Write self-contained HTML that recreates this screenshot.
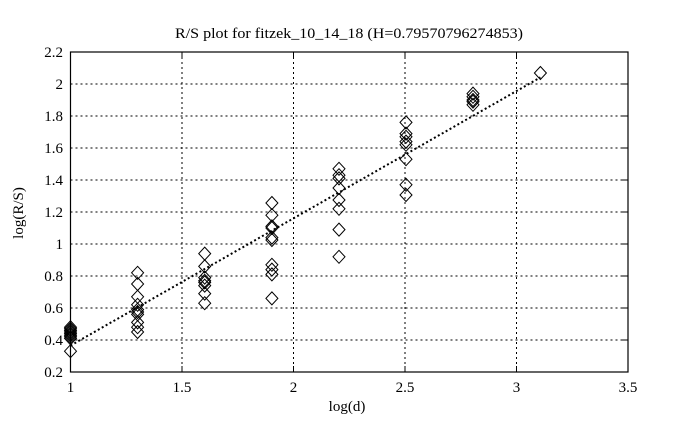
<!DOCTYPE html>
<html>
<head>
<meta charset="utf-8">
<style>
html,body{margin:0;padding:0;background:#fff;}
svg{display:block;}
.t{font-family:"Liberation Serif",serif;font-size:15px;fill:#000;}
.s{font-family:"Liberation Serif",serif;font-size:15px;fill:#000;}
</style>
</head>
<body>
<svg width="686" height="430" viewBox="0 0 686 430" xmlns="http://www.w3.org/2000/svg">
<rect width="686" height="430" fill="#fff"/>
<defs>
<path id="d" d="M0,-6.5 L6,0 L0,6.5 L-6,0 Z" fill="none" stroke="#000" stroke-width="1"/>
</defs>
<text class="t" x="349" y="38" text-anchor="middle" textLength="348" lengthAdjust="spacingAndGlyphs">R/S plot for fitzek_10_14_18 (H=0.79570796274853)</text>
<g stroke="#000" stroke-width="1" stroke-dasharray="2,3" fill="none">
<line x1="182" y1="52" x2="182" y2="372"/>
<line x1="293.5" y1="52" x2="293.5" y2="372"/>
<line x1="405" y1="52" x2="405" y2="372"/>
<line x1="516.5" y1="52" x2="516.5" y2="372"/>
<line x1="70.5" y1="84" x2="628" y2="84"/>
<line x1="70.5" y1="116" x2="628" y2="116"/>
<line x1="70.5" y1="148" x2="628" y2="148"/>
<line x1="70.5" y1="180" x2="628" y2="180"/>
<line x1="70.5" y1="212" x2="628" y2="212"/>
<line x1="70.5" y1="244" x2="628" y2="244"/>
<line x1="70.5" y1="276" x2="628" y2="276"/>
<line x1="70.5" y1="308" x2="628" y2="308"/>
<line x1="70.5" y1="340" x2="628" y2="340"/>
</g>
<rect x="70.5" y="52" width="557.5" height="320" fill="none" stroke="#000" stroke-width="1.2"/>
<g stroke="#000" stroke-width="1">
<line x1="182" y1="372" x2="182" y2="366"/><line x1="182" y1="52" x2="182" y2="58"/>
<line x1="293.5" y1="372" x2="293.5" y2="366"/><line x1="293.5" y1="52" x2="293.5" y2="58"/>
<line x1="405" y1="372" x2="405" y2="366"/><line x1="405" y1="52" x2="405" y2="58"/>
<line x1="516.5" y1="372" x2="516.5" y2="366"/><line x1="516.5" y1="52" x2="516.5" y2="58"/>
<line x1="622" y1="84" x2="628" y2="84"/><line x1="622" y1="116" x2="628" y2="116"/>
<line x1="622" y1="148" x2="628" y2="148"/><line x1="622" y1="180" x2="628" y2="180"/>
<line x1="622" y1="212" x2="628" y2="212"/><line x1="622" y1="244" x2="628" y2="244"/>
<line x1="622" y1="276" x2="628" y2="276"/><line x1="622" y1="308" x2="628" y2="308"/>
<line x1="622" y1="340" x2="628" y2="340"/>
</g>
<g class="t" text-anchor="end">
<text x="63" y="57">2.2</text>
<text x="63" y="89">2</text>
<text x="63" y="121">1.8</text>
<text x="63" y="153">1.6</text>
<text x="63" y="185">1.4</text>
<text x="63" y="217">1.2</text>
<text x="63" y="249">1</text>
<text x="63" y="281">0.8</text>
<text x="63" y="313">0.6</text>
<text x="63" y="345">0.4</text>
<text x="63" y="377">0.2</text>
</g>
<g class="t" text-anchor="middle">
<text x="70.5" y="392">1</text>
<text x="182" y="392">1.5</text>
<text x="293.5" y="392">2</text>
<text x="405" y="392">2.5</text>
<text x="516.5" y="392">3</text>
<text x="628" y="392">3.5</text>
</g>
<text class="s" x="347" y="411" text-anchor="middle">log(d)</text>
<text class="s" x="0" y="0" text-anchor="middle" transform="translate(23,213) rotate(-90)">log(R/S)</text>
<line x1="70.5" y1="345.6" x2="540.4" y2="77.4" stroke="#000" stroke-width="2" stroke-dasharray="2,2.5"/>
<g>
<use href="#d" x="70.5" y="351.2"/><use href="#d" x="70.5" y="338.4"/><use href="#d" x="70.5" y="336.8"/>
<use href="#d" x="70.5" y="335.2"/><use href="#d" x="70.5" y="333.6"/><use href="#d" x="70.5" y="332"/>
<use href="#d" x="70.5" y="330.4"/><use href="#d" x="70.5" y="328.8"/><use href="#d" x="70.5" y="327.2"/>

<use href="#d" x="137.6" y="272.8"/><use href="#d" x="137.6" y="284"/><use href="#d" x="137.6" y="296.8"/>
<use href="#d" x="137.6" y="304.8"/><use href="#d" x="137.6" y="309.6"/><use href="#d" x="137.6" y="312"/>
<use href="#d" x="137.6" y="314.4"/><use href="#d" x="137.6" y="322.4"/><use href="#d" x="137.6" y="327.2"/>
<use href="#d" x="137.6" y="332"/>

<use href="#d" x="204.7" y="253.6"/><use href="#d" x="204.7" y="266.4"/><use href="#d" x="204.7" y="277.6"/>
<use href="#d" x="204.7" y="280.8"/><use href="#d" x="204.7" y="282.4"/><use href="#d" x="204.7" y="285.6"/>
<use href="#d" x="204.7" y="293.6"/><use href="#d" x="204.7" y="303.2"/>

<use href="#d" x="271.9" y="203"/><use href="#d" x="271.9" y="215.2"/><use href="#d" x="271.9" y="226.4"/>
<use href="#d" x="271.9" y="228"/><use href="#d" x="271.9" y="237.6"/><use href="#d" x="271.9" y="240"/>
<use href="#d" x="271.9" y="264.8"/><use href="#d" x="271.9" y="269.6"/><use href="#d" x="271.9" y="274.4"/>
<use href="#d" x="271.9" y="298.4"/>

<use href="#d" x="339" y="168.8"/><use href="#d" x="339" y="175.2"/><use href="#d" x="339" y="178.4"/>
<use href="#d" x="339" y="188"/><use href="#d" x="339" y="200"/><use href="#d" x="339" y="208.8"/>
<use href="#d" x="339" y="229.6"/><use href="#d" x="339" y="256.8"/>

<use href="#d" x="406" y="122.4"/><use href="#d" x="406" y="133.6"/><use href="#d" x="406" y="136.8"/>
<use href="#d" x="406" y="141.6"/><use href="#d" x="406" y="144.8"/><use href="#d" x="406" y="159.2"/>
<use href="#d" x="406" y="184.8"/><use href="#d" x="406" y="195"/>

<use href="#d" x="473" y="93.6"/><use href="#d" x="473" y="96.8"/><use href="#d" x="473" y="100"/>
<use href="#d" x="473" y="101.6"/><use href="#d" x="473" y="104.8"/>

<use href="#d" x="540.4" y="73"/>
</g>
</svg>
</body>
</html>
